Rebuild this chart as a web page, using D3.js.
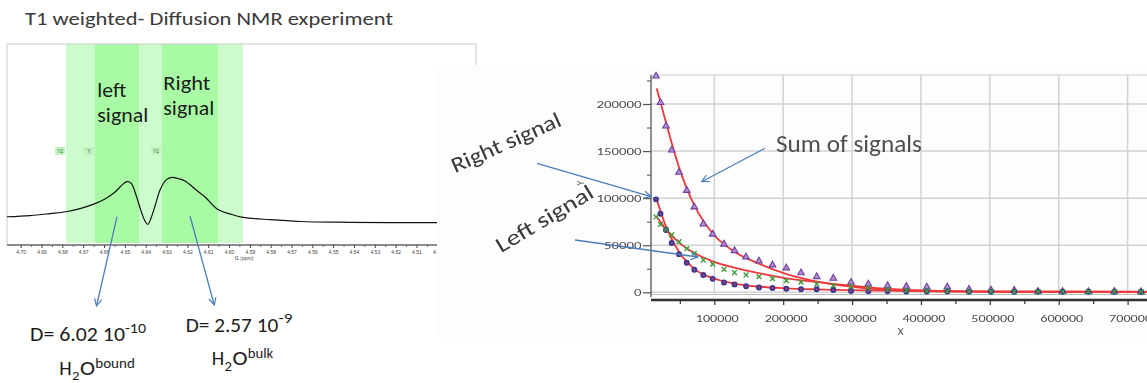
<!DOCTYPE html>
<html>
<head>
<meta charset="utf-8">
<script src="https://cdn.jsdelivr.net/npm/d3@7"></script>
<style>
  html, body { margin: 0; padding: 0; background: #fff; }
  svg { display: block; }
  text { font-family: Carlito, Lato, "Open Sans", sans-serif; }
  .tiny text { font-family: "Liberation Sans", Arial, sans-serif; }
</style>
</head>
<body>
<svg id="fig" width="1147" height="383"></svg>
<script>
// ---------- 1H spectrum (f1, ppm) ----------
const ppmTicks = [4.70, 4.69, 4.68, 4.67, 4.66, 4.65, 4.64, 4.63, 4.62, 4.61, 4.60,
                  4.59, 4.58, 4.57, 4.56, 4.55, 4.54, 4.53, 4.52, 4.51, 4.50];
const spectrumPpm = [4.7066, 4.6955, 4.6859, 4.6783, 4.6715, 4.6643, 4.6595, 4.6547, 4.6514,
                     4.6491, 4.6470, 4.6446, 4.6422, 4.6403, 4.6390, 4.6374, 4.6355, 4.6331,
                     4.6302, 4.6272, 4.6245, 4.6211, 4.6163, 4.6115, 4.6053, 4.5995, 4.5933,
                     4.5803, 4.5659, 4.5419, 4.5001];
const spectrumIntensity = [13.2, 13.8, 14.8, 15.7, 17.3, 19.8, 22.1, 25.6, 29.1,
                           30.8, 30.0, 24.0, 16.0, 11.0, 9.3, 12.6, 18.6, 26.6,
                           31.7, 33.0, 32.4, 31.2, 27.1, 23.1, 16.8, 14.6, 12.9,
                           11.7, 10.8, 10.4, 10.2];
const integralRange = [4.6783, 4.5933];
const signalRanges = [[4.6643, 4.6432], [4.6322, 4.6053]];
const regionTags = ["Y2", "Y", "Y1"];
const regionTagPpm = [4.6811, 4.6672, 4.6350];

// ---------- decay curves ----------
const delayX = [15400, 21900, 29900, 38200, 48800, 60000, 71000, 84100, 97700, 114100,
                129400, 146100, 164900, 184500, 204600, 225900, 248700, 272800, 298500, 323600,
                351500, 378800, 408500, 438300, 469800, 501700, 535400, 570000, 605600, 643000,
                680800, 719500];
const sumSignal = [229600, 201500, 176500, 151000, 127400, 108200, 90600, 72500, 61700, 51100,
                   44200, 37500, 33200, 29000, 25800, 20700, 16600, 14900, 10600, 8700,
                   7000, 6200, 5500, 5600, 3200, 2400, 2200, 1000, 800, 700,
                   900, 600];
const rightSignal = [98700, 83500, 66100, 52400, 40500, 31400, 24000, 18400, 14300, 10400,
                     8400, 6400, 5100, 4600, 3800, 3200, 3200, 2400, 1400, 1200,
                     1000, 900, 800, 800, 700, 600, 600, 500, 500, 500,
                     500, 400];
const leftSignal = [80000, 72200, 66900, 61000, 53700, 46300, 41400, 34300, 30000, 24400,
                    21000, 18400, 16600, 14500, 12500, 10800, 8800, 7400, 6000, 4500,
                    3000, 2000, 1500, 1200, 1000, 900, 800, 800, 700, 700,
                    700, 600];
const fitX = [16400, 30900, 50200, 72000, 98600, 127600, 166300, 205100, 243800, 292200,
              341600, 427000, 520000, 728000];
const sumFit = [216600, 177600, 129800, 90900, 61700, 43800, 29900, 19300, 12200, 6500,
                3000, 900, 600, 500];
const leftFit = [80300, 66100, 52000, 41400, 32500, 26500, 20200, 14900, 11300, 7500,
                 4200, 1500, 800, 600];
const rightFit = [98700, 67900, 41400, 24400, 14900, 9600, 5900, 4200, 3200, 2400,
                  1700, 1000, 700, 500];
const yTicks = [0, 50000, 100000, 150000, 200000];
const yMinorTicks = [25000, 75000, 125000, 175000, 225000];
const xTicks = [100000, 200000, 300000, 400000, 500000, 600000, 700000];
const xMinorTicks = [50000, 150000, 250000, 350000, 450000, 550000, 650000];

const svg = d3.select("#fig");
const defs = svg.append("defs");
defs.append("filter").attr("id", "soft")
  .append("feGaussianBlur").attr("stdDeviation", 0.45);
defs.append("marker")
  .attr("id", "openArrow").attr("viewBox", "0 0 10 10")
  .attr("refX", 9).attr("refY", 5)
  .attr("markerWidth", 9).attr("markerHeight", 9)
  .attr("markerUnits", "userSpaceOnUse").attr("orient", "auto")
  .append("path").attr("d", "M1,1 L9,5 L1,9")
  .attr("fill", "none").attr("stroke", "#4a7ebb").attr("stroke-width", 1.3);

function addText(g, x, y, str, size, len, fill, rot) {
  const t = g.append("text").attr("x", x).attr("y", y)
    .attr("font-size", size).attr("fill", fill).text(str);
  if (len) t.attr("textLength", len).attr("lengthAdjust", "spacingAndGlyphs");
  if (rot) t.attr("transform", `rotate(${rot},${x},${y})`);
  return t;
}
function arrow(g, x1, y1, x2, y2) {
  g.append("line").attr("x1", x1).attr("y1", y1).attr("x2", x2).attr("y2", y2)
    .attr("stroke", "#4a7ebb").attr("stroke-width", 1.3)
    .attr("marker-end", "url(#openArrow)");
}

// ===== left: spectrum =====
const sx = d3.scaleLinear().domain([4.70, 4.50]).range([20.7, 437.3]);
const sy = d3.scaleLinear().domain([0, 100]).range([243, 44]);
const spec = svg.append("g");

addText(spec, 25, 25, "T1 weighted- Diffusion NMR experiment", 19, 368, "#3a3a3a");

spec.append("rect")
  .attr("x", sx(integralRange[0])).attr("y", sy(100))
  .attr("width", sx(integralRange[1]) - sx(integralRange[0]))
  .attr("height", sy(0) - sy(100)).attr("fill", "#ccfbcc");
spec.selectAll("rect.sig").data(signalRanges).join("rect").attr("class", "sig")
  .attr("x", d => sx(d[0])).attr("y", sy(100))
  .attr("width", d => sx(d[1]) - sx(d[0]))
  .attr("height", sy(0) - sy(100)).attr("fill", "#a8fba4");

// frame
spec.append("path")
  .attr("d", `M7,245 V44 H476 V65`)
  .attr("fill", "none").attr("stroke", "#c9c9c9").attr("stroke-width", 1);

// region tags
const tags = spec.append("g").attr("class", "tiny");
regionTags.forEach((t, i) => {
  const w = t.length > 1 ? 10 : 11;
  tags.append("rect").attr("x", sx(regionTagPpm[i]) - w / 2).attr("y", 147)
    .attr("width", w).attr("height", 8).attr("fill", "#bff3bf");
  tags.append("text").attr("x", sx(regionTagPpm[i])).attr("y", 153)
    .attr("text-anchor", "middle").attr("font-size", 5).attr("fill", "#2f6a2f").text(t);
});

spec.append("path")
  .datum(spectrumPpm.map((p, i) => [p, spectrumIntensity[i]]))
  .attr("d", d3.line().x(d => sx(d[0])).y(d => sy(d[1])).curve(d3.curveCatmullRom))
  .attr("fill", "none").attr("stroke", "#111").attr("stroke-width", 1.2);

// ppm axis
const axG = spec.append("g").attr("class", "tiny").attr("transform", "translate(0,245)");
axG.call(d3.axisBottom(sx).tickValues(ppmTicks).tickFormat(d3.format(".2f"))
  .tickSize(3).tickPadding(2).tickSizeOuter(0));
axG.select(".domain").attr("d", `M7,0H437`).attr("stroke", "#666").attr("stroke-width", 1.6);
axG.selectAll(".tick line").attr("stroke", "#444");
axG.selectAll(".tick text").attr("font-size", 5).attr("fill", "#444");
const minorG = spec.append("g").attr("transform", "translate(0,245)");
minorG.call(d3.axisBottom(sx).tickValues(ppmTicks.slice(0, -1).map(v => v - 0.005))
  .tickSize(2).tickFormat(""));
minorG.select(".domain").remove();
minorG.selectAll(".tick line").attr("stroke", "#666");
spec.append("text").attr("x", 244).attr("y", 259.5)
  .attr("text-anchor", "middle").attr("font-size", 5).attr("fill", "#444")
  .style("font-family", "Liberation Sans, Arial, sans-serif").text("f1 (ppm)");

// signal names
addText(spec, 97.3, 96.7, "left", 21, 29, "#1c1c1c");
addText(spec, 97.3, 121.7, "signal", 21, 51, "#1c1c1c");
addText(spec, 163.3, 90, "Right", 21, 47, "#1c1c1c");
addText(spec, 163.3, 115, "signal", 21, 51, "#1c1c1c");

arrow(spec, 117, 216.7, 96.5, 306);
arrow(spec, 190, 216, 214.3, 305);

// diffusion coefficients
addText(spec, 30, 341, "D= 6.02 10", 21, 95, "#1c1c1c");
addText(spec, 125, 333.3, "-10", 14, 21, "#1c1c1c");
addText(spec, 185.7, 331.7, "D= 2.57 10", 21, 92.6, "#1c1c1c");
addText(spec, 278.5, 323.3, "-9", 14, 14, "#1c1c1c");
addText(spec, 59.3, 375, "H", 21, 12.4, "#1c1c1c");
addText(spec, 72, 379.5, "2", 13, 7.5, "#1c1c1c");
addText(spec, 80, 375, "O", 21, 15, "#1c1c1c");
addText(spec, 95.3, 367.5, "bound", 14, 39.5, "#1c1c1c");
addText(spec, 211.7, 365, "H", 21, 12.4, "#1c1c1c");
addText(spec, 224.4, 371, "2", 14, 7.5, "#1c1c1c");
addText(spec, 232.4, 365, "O", 21, 15, "#1c1c1c");
addText(spec, 247.7, 357.7, "bulk", 14, 25.5, "#1c1c1c");

// ===== right: decay curves =====
svg.append("rect").attr("x", 437).attr("y", 65).attr("width", 710).attr("height", 273)
  .attr("fill", "#fdfdfd");

const dx = d3.scaleLinear().domain([0, 700000]).range([645.4, 1127.6]);
const dy = d3.scaleLinear().domain([0, 200000]).range([292.3, 104]);
const dec = svg.append("g").attr("filter", "url(#soft)");
const plotL = 651, plotR = 1147, plotT = 75, plotB = 294.5;

// grid
dec.append("g").selectAll("line").data(yTicks).join("line")
  .attr("x1", plotL).attr("x2", plotR).attr("y1", d => dy(d)).attr("y2", d => dy(d))
  .attr("stroke", "#d2d2d2").attr("stroke-width", 1.5);
dec.append("g").selectAll("line").data(xTicks).join("line")
  .attr("x1", d => dx(d)).attr("x2", d => dx(d)).attr("y1", plotT).attr("y2", plotB)
  .attr("stroke", "#d2d2d2").attr("stroke-width", 1.5);
dec.append("line").attr("x1", plotL).attr("x2", plotR).attr("y1", plotT).attr("y2", plotT)
  .attr("stroke", "#cfcfcf").attr("stroke-width", 1.2);
dec.append("line").attr("x1", plotL).attr("x2", plotR).attr("y1", plotB).attr("y2", plotB)
  .attr("stroke", "#bdbdbd").attr("stroke-width", 1);

// y axis
const yAx = dec.append("g").attr("transform", `translate(${plotL},0)`);
yAx.call(d3.axisLeft(dy).tickValues(yTicks).tickFormat(d3.format("d"))
  .tickSize(8).tickPadding(1.5).tickSizeOuter(0));
yAx.select(".domain").attr("d", `M0,${plotT}V297`).attr("stroke", "#555").attr("stroke-width", 1.3);
yAx.selectAll(".tick line").attr("stroke", "#555").attr("stroke-width", 1.2);
yAx.selectAll(".tick text").attr("font-size", 11).attr("fill", "#4a4a4a")
  .attr("textLength", d => String(d).length * 7.5).attr("lengthAdjust", "spacingAndGlyphs");
const yMin = dec.append("g").attr("transform", `translate(${plotL},0)`);
yMin.call(d3.axisLeft(dy).tickValues(yMinorTicks).tickSize(4).tickFormat(""));
yMin.select(".domain").remove();
yMin.selectAll(".tick line").attr("stroke", "#555").attr("stroke-width", 1.1);

// x axis
const xAx = dec.append("g").attr("transform", "translate(0,300)");
xAx.call(d3.axisBottom(dx).tickValues(xTicks).tickFormat(d3.format("d"))
  .tickSize(5).tickPadding(9).tickSizeOuter(0));
xAx.select(".domain").attr("d", `M${plotL},0H${plotR}`).attr("stroke", "#333").attr("stroke-width", 2.6);
xAx.selectAll(".tick line").attr("stroke", "#333").attr("stroke-width", 1.2);
xAx.selectAll(".tick text").attr("font-size", 11).attr("fill", "#4a4a4a").attr("dx", 2.5)
  .attr("textLength", 43).attr("lengthAdjust", "spacingAndGlyphs");
const xMin = dec.append("g").attr("transform", "translate(0,300)");
xMin.call(d3.axisBottom(dx).tickValues(xMinorTicks).tickSize(4).tickFormat(""));
xMin.select(".domain").remove();
xMin.selectAll(".tick line").attr("stroke", "#333").attr("stroke-width", 1.2);

addText(dec, 900.5, 334.5, "X", 11, null, "#4a4a4a").attr("text-anchor", "middle");
addText(dec, 584, 183, "Y", 10, null, "#555", -90).attr("text-anchor", "middle");

// fits
const fitLine = d3.line().x(d => dx(d[0])).y(d => dy(d[1])).curve(d3.curveMonotoneX);
[sumFit, leftFit, rightFit].forEach(f => {
  dec.append("path").datum(fitX.map((x, i) => [x, f[i]]))
    .attr("d", fitLine).attr("fill", "none")
    .attr("stroke", "#f0393b").attr("stroke-width", 1.8);
});

// measured points
const pts = dec.append("g");
pts.selectAll("path.sum").data(delayX.map((x, i) => [x, sumSignal[i]])).join("path")
  .attr("class", "sum")
  .attr("transform", d => `translate(${dx(d[0])},${dy(d[1])})`)
  .attr("d", d3.symbol(d3.symbolTriangle, 19))
  .attr("fill", "#b28fd0").attr("stroke", "#6f3f9e").attr("stroke-width", 1.1);
pts.selectAll("circle.rs").data(delayX.map((x, i) => [x, rightSignal[i]])).join("circle")
  .attr("class", "rs")
  .attr("cx", d => dx(d[0])).attr("cy", d => dy(d[1])).attr("r", 2.3)
  .attr("fill", "#7c3f88").attr("stroke", "#33338f").attr("stroke-width", 1.3);
pts.selectAll("path.ls").data(delayX.map((x, i) => [x, leftSignal[i]])).join("path")
  .attr("class", "ls")
  .attr("transform", d => `translate(${dx(d[0])},${dy(d[1])})`)
  .attr("d", "M-2.4,-2.4L2.4,2.4M-2.4,2.4L2.4,-2.4")
  .attr("fill", "none").attr("stroke", "#3f9a3c").attr("stroke-width", 1.4);

// annotations
addText(dec, 455, 173.3, "Right signal", 22, 118, "#383838", -24);
addText(dec, 501, 253.3, "Left signal", 22, 110, "#383838", -31);
addText(dec, 776, 151.7, "Sum of signals", 24, 146, "#505050");
arrow(dec, 537, 163.3, 651, 196.7);
arrow(dec, 575, 240, 698, 257);
arrow(dec, 765, 148.3, 701.7, 181.7);
</script>
</body>
</html>
